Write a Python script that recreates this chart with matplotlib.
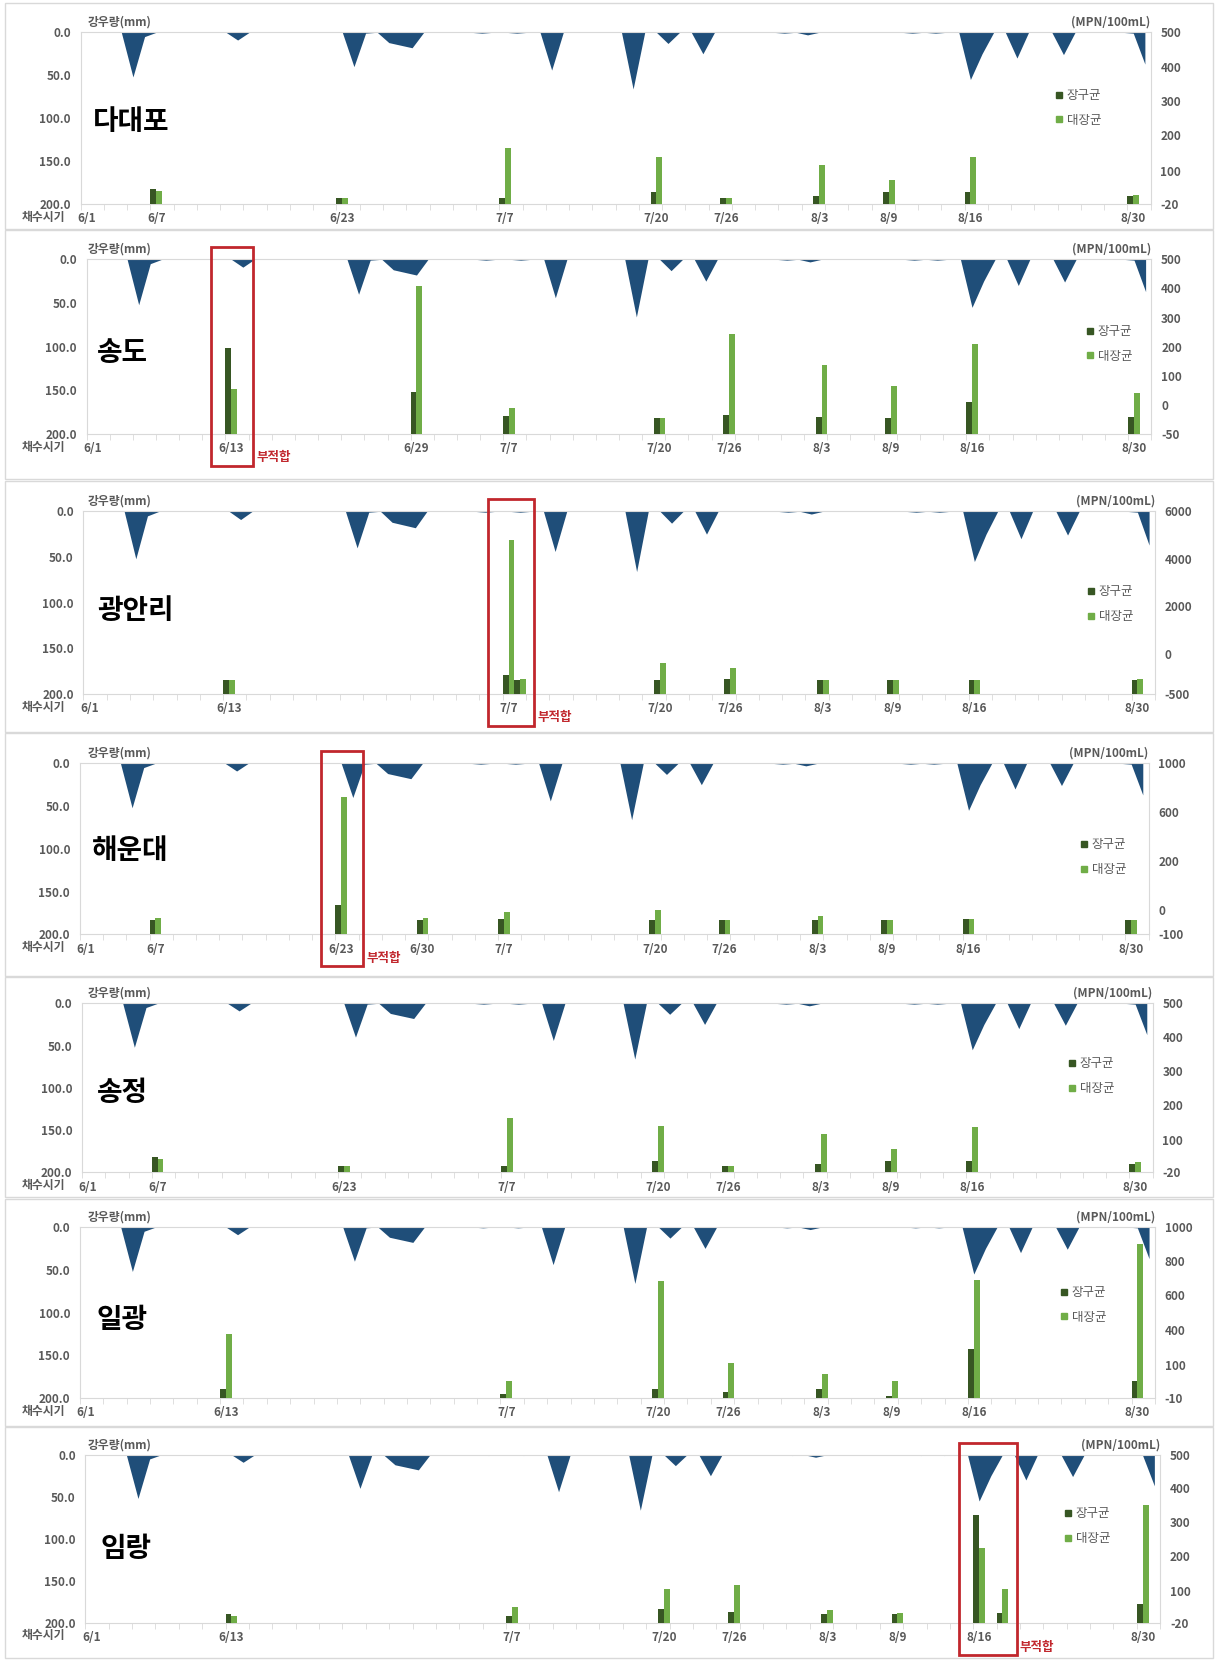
import numpy as np
import matplotlib
matplotlib.use('Agg')
import matplotlib.pyplot as plt
from matplotlib.patches import Rectangle
from matplotlib.lines import Line2D
from matplotlib.transforms import blended_transform_factory
from datetime import date

plt.rcParams['font.family'] = ['Noto Sans CJK KR', 'DejaVu Sans']

# ---- data ----
# daily rainfall (mm); days not listed had no rain
rain_dates = ['6/5', '6/6', '6/14', '6/24', '6/25', '6/27', '6/28', '6/29', '7/5', '7/8',
              '7/11', '7/18', '7/21', '7/24', '7/31', '8/2', '8/11', '8/13', '8/16', '8/17',
              '8/20', '8/24', '8/30', '8/31']
rain_mm = [52, 5, 9, 40, 1, 12, 15, 18, 1, 1,
           44, 66, 13, 25, 1, 3, 1, 1, 55, 25,
           30, 26, 1, 37]

dadaepo_dates = ['6/7', '6/23', '7/7', '7/20', '7/26', '8/3', '8/9', '8/16', '8/30']
dadaepo_ent = [36, 2, 2, 23, 2, 8, 23, 23, 8]
dadaepo_ecoli = [28, 2, 164, 141, 2, 118, 68, 139, 14]
dadaepo_xlabels = ['6/1', '6/7', '6/23', '7/7', '7/20', '7/26', '8/3', '8/9', '8/16', '8/30']
dadaepo_rticks = [-20, 100, 200, 300, 400, 500]

songdo_dates = ['6/13', '6/29', '7/7', '7/20', '7/26', '8/3', '8/9', '8/16', '8/30']
songdo_ent = [194, 43, -19, -22, -17, -20, -22, 11, -20]
songdo_ecoli = [54, 407, -5, -22, 243, 136, 64, 209, 40]
songdo_xlabels = ['6/1', '6/13', '6/29', '7/7', '7/20', '7/26', '8/3', '8/9', '8/16', '8/30']
songdo_rticks = [-50, 0, 100, 200, 300, 400, 500]

gwangalli_dates = ['6/13', '7/7', '7/8', '7/20', '7/26', '8/3', '8/9', '8/16', '8/30']
gwangalli_ent = [-325, -259, -330, -330, -316, -325, -325, -325, -325]
gwangalli_ecoli = [-325, 4810, -316, -114, -180, -325, -325, -325, -314]
gwangalli_xlabels = ['6/1', '6/13', '7/7', '7/20', '7/26', '8/3', '8/9', '8/16', '8/30']
gwangalli_rticks = [-500, 0, 2000, 4000, 6000]

haeundae_dates = ['6/7', '6/23', '6/30', '7/7', '7/20', '7/26', '8/3', '8/9', '8/16', '8/30']
haeundae_ent = [-40, 21, -40, -37, -40, -40, -40, -40, -37, -40]
haeundae_ecoli = [-31, 726, -31, -5, 1, -40, -24, -40, -37, -40]
haeundae_xlabels = ['6/1', '6/7', '6/23', '6/30', '7/7', '7/20', '7/26', '8/3', '8/9', '8/16', '8/30']
haeundae_rticks = [-100, 0, 200, 600, 1000]

songjeong_dates = ['6/7', '6/23', '7/7', '7/20', '7/26', '8/3', '8/9', '8/16', '8/30']
songjeong_ent = [36, 5, 5, 24, 5, 11, 24, 24, 11]
songjeong_ecoli = [31, 5, 162, 140, 5, 117, 67, 137, 17]
songjeong_xlabels = ['6/1', '6/7', '6/23', '7/7', '7/20', '7/26', '8/3', '8/9', '8/16', '8/30']
songjeong_rticks = [-20, 100, 200, 300, 400, 500]

ilgwang_dates = ['6/13', '7/7', '7/20', '7/26', '8/3', '8/9', '8/16', '8/30']
ilgwang_ent = [19, 4, 21, 10, 19, -2, 232, 47]
ilgwang_ecoli = [365, 45, 684, 118, 69, 45, 690, 901]
ilgwang_xlabels = ['6/1', '6/13', '7/7', '7/20', '7/26', '8/3', '8/9', '8/16', '8/30']
ilgwang_rticks = [-10, 100, 400, 600, 800, 1000]

imnang_dates = ['6/13', '7/7', '7/20', '7/26', '8/3', '8/9', '8/16', '8/18', '8/30']
imnang_ent = [13, 7, 32, 22, 13, 12, 322, 17, 50]
imnang_ecoli = [7, 41, 106, 117, 29, 17, 222, 106, 351]
imnang_xlabels = ['6/1', '6/13', '7/7', '7/20', '7/26', '8/3', '8/9', '8/16', '8/30']
imnang_rticks = [-20, 100, 200, 300, 400, 500]

# flagged samples (부적합): first and last date inside the red box
flags = {'송도': ('6/13', '6/13'), '광안리': ('7/7', '7/8'),
         '해운대': ('6/23', '6/23'), '임랑': ('8/16', '8/18')}

# ---- layout (pixels) ----
W, H = 1217, 1661
# plot area: left, right, top, bottom
plot_px = [(80.6, 1150.7, 32.3, 204.0), (86.6, 1151.4, 259.3, 434.0), (83.4, 1154.9, 511.3, 694.0),
           (79.8, 1148.6, 763.3, 934.3), (82.0, 1152.6, 1003.3, 1172.3), (79.8, 1154.9, 1227.0, 1398.0),
           (85.4, 1160.2, 1454.7, 1623.0)]
frame_px = [(3, 229), (230, 479), (481, 732), (733, 976), (977, 1197), (1199, 1426), (1427, 1658)]
title_px = [(93, 122), (97, 353), (97, 611), (92, 851), (97, 1093), (97, 1320), (100, 1549)]
legend_px = [(1052, 90.7), (1083, 326.7), (1084, 587), (1077, 840), (1065, 1059), (1057, 1287.7), (1061, 1509)]
# where the right-axis labels sit (0 = bottom, 1 = top)
rpos_five = [0, 0.19, 0.4, 0.6, 0.8, 1]
rpos = [rpos_five, [0, 1/6, 2/6, 3/6, 4/6, 5/6, 1], [0, 0.22, 0.48, 0.74, 1],
        [0, 0.14, 0.43, 0.715, 1], rpos_five, [0, 0.195, 0.4, 0.6, 0.8, 1], rpos_five]

panels = [
    ('다대포', dadaepo_dates, dadaepo_ent, dadaepo_ecoli, dadaepo_xlabels, dadaepo_rticks),
    ('송도', songdo_dates, songdo_ent, songdo_ecoli, songdo_xlabels, songdo_rticks),
    ('광안리', gwangalli_dates, gwangalli_ent, gwangalli_ecoli, gwangalli_xlabels, gwangalli_rticks),
    ('해운대', haeundae_dates, haeundae_ent, haeundae_ecoli, haeundae_xlabels, haeundae_rticks),
    ('송정', songjeong_dates, songjeong_ent, songjeong_ecoli, songjeong_xlabels, songjeong_rticks),
    ('일광', ilgwang_dates, ilgwang_ent, ilgwang_ecoli, ilgwang_xlabels, ilgwang_rticks),
    ('임랑', imnang_dates, imnang_ent, imnang_ecoli, imnang_xlabels, imnang_rticks),
]

RAIN = '#1F4E79'
DARK = '#375623'
LIGHT = '#70AD47'
GRID = '#d9d9d9'
TXT = '#595959'
RED = '#C1272D'
FS = 8.5


def day(s):
    m, d = map(int, s.split('/'))
    return (date(2018, m, d) - date(2018, 6, 1)).days


rain_x = np.arange(day('6/1'), day('8/31') + 1)
rain_y = np.zeros(len(rain_x))
rain_y[[day(s) for s in rain_dates]] = rain_mm

fig = plt.figure(figsize=(W / 100, H / 100), dpi=100)

for i, (name, dates, ent, ecoli, xlabels, rticks) in enumerate(panels):
    L, R, T, B = plot_px[i]
    h = B - T

    fy0, fy1 = frame_px[i]
    fig.add_artist(Rectangle((5 / W, 1 - fy1 / H), 1208 / W, (fy1 - fy0) / H,
                             transform=fig.transFigure, fill=False, ec=GRID, lw=1))

    ax = fig.add_axes([L / W, 1 - B / H, (R - L) / W, h / H])
    ax.set_facecolor('none')
    ax.fill_between(rain_x, 0, rain_y, color=RAIN, lw=0)
    ax.set_ylim(200, 0)
    ax.set_yticks([0, 50, 100, 150, 200])
    ax.set_yticklabels([f'{v:.1f}' for v in [0, 50, 100, 150, 200]])
    ax.tick_params(axis='y', length=0, pad=7, labelsize=FS, labelcolor=TXT)
    ax.set_xticks([day(s) for s in xlabels])
    ax.set_xticklabels(xlabels)
    ax.set_xticks(np.arange(-0.5, 92, 2), minor=True)
    ax.tick_params(axis='x', which='major', length=0, pad=6, labelsize=FS, labelcolor=TXT)
    ax.tick_params(axis='x', which='minor', length=4, color=GRID, direction='out')
    for lbl in ax.get_xticklabels() + ax.get_yticklabels():
        lbl.set_fontweight('bold')
    for s in ['left', 'bottom', 'top']:
        ax.spines[s].set_color(GRID)
    ax.spines['right'].set_visible(False)

    ax2 = ax.twinx()
    t = list(rticks)
    f = rpos[i]
    ax2.set_yscale('function', functions=(lambda v, t=t, f=f: np.interp(v, t, f),
                                          lambda y, t=t, f=f: np.interp(y, f, t)))
    xs = np.array([day(s) for s in dates])
    ax2.bar(xs - 0.25, np.array(ent) - t[0], bottom=t[0], width=0.5, color=DARK, label='장구균')
    ax2.bar(xs + 0.25, np.array(ecoli) - t[0], bottom=t[0], width=0.5, color=LIGHT, label='대장균')
    ax2.set_ylim(t[0], t[-1])
    ax2.set_yticks(t)
    ax2.set_yticklabels([str(v) for v in t])
    ax2.tick_params(axis='y', length=0, pad=7, labelsize=FS, labelcolor=TXT)
    for lbl in ax2.get_yticklabels():
        lbl.set_fontweight('bold')
    for s in ['left', 'bottom', 'top']:
        ax2.spines[s].set_visible(False)
    ax2.spines['right'].set_color(GRID)

    handles = [Line2D([], [], marker='s', ls='none', color=DARK, markersize=5),
               Line2D([], [], marker='s', ls='none', color=LIGHT, markersize=5)]
    lx, ly = legend_px[i]
    ax2.legend(handles, ['장구균', '대장균'], loc='upper left',
               bbox_to_anchor=((lx - 4) / W, 1 - (ly - 8) / H), bbox_transform=fig.transFigure,
               frameon=False, borderpad=0, handlelength=0.7, handletextpad=0.3,
               labelspacing=0.95, prop={'size': FS + 0.5}, labelcolor=TXT)

    ax.set_xlim(-0.5, 91.5)

    # labels around the plot
    fig.text(88 / W, 1 - (T - 10) / H, '강우량(mm)', fontsize=FS, fontweight='bold', color=TXT, va='center')
    fig.text(R / W, 1 - (T - 10) / H, '(MPN/100mL)', fontsize=FS, fontweight='bold', color=TXT,
             va='center', ha='right')
    fig.text(22 / W, 1 - (B + 13) / H, '채수시기', fontsize=FS, fontweight='bold', color=TXT, va='center')
    tx, ty = title_px[i]
    fig.text(tx / W, 1 - ty / H, name, fontsize=20, fontweight='black', color='black', va='center')

    if name in flags:
        first, last = flags[name]
        x0 = day(first) - 1.75
        x1 = day(last) + (1.9 if first == last else 1.2)
        bx = blended_transform_factory(ax2.transData, ax2.transAxes)
        ax2.add_patch(Rectangle((x0, -32 / h), x1 - x0, 1 + 44 / h, transform=bx, fill=False,
                                ec=RED, lw=2, clip_on=False))
        ax2.annotate('부적합', xy=(x1, -32 / h), xycoords=bx, xytext=(3, 8),
                     textcoords='offset pixels', color=RED, fontsize=FS + 0.5, fontweight='bold',
                     va='center', ha='left', annotation_clip=False)
        ax2.set_ylim(t[0], t[-1])
        ax.set_xlim(-0.5, 91.5)

fig.savefig('out.png', dpi=100)
